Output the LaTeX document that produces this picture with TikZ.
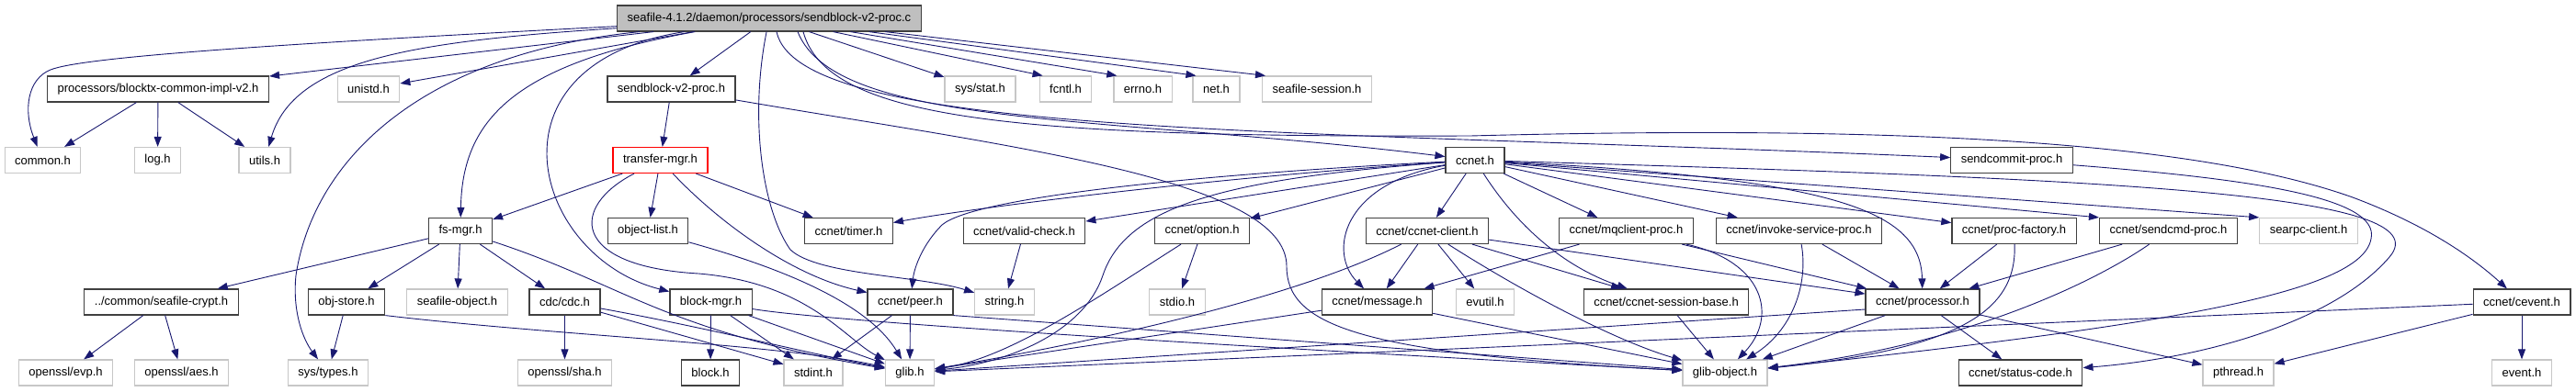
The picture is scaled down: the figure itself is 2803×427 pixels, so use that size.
\documentclass[tikz,border=0pt]{standalone}
\usepackage{fontspec}
\setmainfont{Liberation Sans}
\usetikzlibrary{arrows.meta}
\definecolor{edgeblue}{HTML}{191970}
\definecolor{rootgray}{HTML}{BFBFBF}

\begin{document}
\begin{tikzpicture}[x=1pt, y=-1pt,
    file/.style={draw=black!75, line width=1.2pt, fill=white, minimum height=28pt,
      inner xsep=11pt, inner ysep=0pt, font=\fontsize{13}{15}\selectfont},
    sysfile/.style={file, draw=black!22},
    dep/.style={edgeblue, line width=0.9pt, -{Triangle[length=11pt, width=8pt]}}]
  \useasboundingbox (0,0) rectangle (2803,427);

  \node[file, fill=rootgray] (root) at (837,20) {seafile-4.1.2/daemon/processors/sendblock-v2-proc.c};

  \node[file] (blocktx) at (172,97) {processors/blocktx-common-impl-v2.h};
  \node[sysfile] (unistd) at (401,97) {unistd.h};
  \node[file] (sbproc) at (730.5,97) {sendblock-v2-proc.h};
  \node[sysfile] (sysstat) at (1066.5,97) {sys/stat.h};
  \node[sysfile] (fcntl) at (1159.5,97) {fcntl.h};
  \node[sysfile] (errno) at (1243.5,97) {errno.h};
  \node[sysfile] (net) at (1323.5,97) {net.h};
  \node[sysfile] (session) at (1433,97) {seafile-session.h};

  \node[sysfile] (common) at (46.5,174.5) {common.h};
  \node[sysfile] (log) at (171.5,174.5) {log.h};
  \node[sysfile] (utils) at (288,174.5) {utils.h};
  \node[file, draw=red] (tmgr) at (718.5,174.5) {transfer-mgr.h};
  \node[file] (ccnet) at (1605,174.5) {ccnet.h};
  \node[file] (sendcommit) at (2189,174.5) {sendcommit-proc.h};

  \node[file] (fsmgr) at (501,251.5) {fs-mgr.h};
  \node[file] (objlist) at (705,251.5) {object-list.h};
  \node[file] (timer) at (923.5,251.5) {ccnet/timer.h};
  \node[file] (valid) at (1114.5,251.5) {ccnet/valid-check.h};
  \node[file] (option) at (1308,251.5) {ccnet/option.h};
  \node[file] (client) at (1553,251.5) {ccnet/ccnet-client.h};
  \node[file] (mqclient) at (1769.5,251.5) {ccnet/mqclient-proc.h};
  \node[file] (invoke) at (1957.5,251.5) {ccnet/invoke-service-proc.h};
  \node[file] (procfactory) at (2191.5,251.5) {ccnet/proc-factory.h};
  \node[file] (sendcmd) at (2359.5,251.5) {ccnet/sendcmd-proc.h};
  \node[sysfile] (searpc) at (2512,251.5) {searpc-client.h};

  \node[file] (crypt) at (175.5,329) {../common/seafile-crypt.h};
  \node[file] (objstore) at (377,329) {obj-store.h};
  \node[sysfile] (seafobj) at (497.5,329) {seafile-object.h};
  \node[file] (cdc) at (614.5,329) {cdc/cdc.h};
  \node[file] (blockmgr) at (773.5,329) {block-mgr.h};
  \node[file] (peer) at (990.5,329) {ccnet/peer.h};
  \node[sysfile] (string) at (1093,329) {string.h};
  \node[sysfile] (stdio) at (1281,329) {stdio.h};
  \node[file] (message) at (1498.5,329) {ccnet/message.h};
  \node[sysfile] (evutil) at (1616,329) {evutil.h};
  \node[file] (sessbase) at (1813,329) {ccnet/ccnet-session-base.h};
  \node[file] (processor) at (2092,329) {ccnet/processor.h};
  \node[file] (cevent) at (2744,329) {ccnet/cevent.h};

  \node[sysfile] (evp) at (71.5,406) {openssl/evp.h};
  \node[sysfile] (aes) at (197.5,406) {openssl/aes.h};
  \node[sysfile] (systypes) at (357,406) {sys/types.h};
  \node[sysfile] (sha) at (614.5,406) {openssl/sha.h};
  \node[file] (block) at (773,406) {block.h};
  \node[sysfile] (stdint) at (885,406) {stdint.h};
  \node[sysfile] (glib) at (990,406) {glib.h};
  \node[sysfile] (gobject) at (1877,406) {glib-object.h};
  \node[file] (status) at (2198.5,406) {ccnet/status-code.h};
  \node[sysfile] (pthread) at (2435.5,406) {pthread.h};
  \node[sysfile] (event) at (2744,406) {event.h};

  \draw[dep] (root) .. controls (300,48) and (90,62) .. (55,76)
    .. controls (30,86) and (25,120) .. (common);
  \draw[dep] (root) -- (blocktx);
  \draw[dep] (root) -- (unistd);
  \draw[dep] (root) .. controls (450,45) and (320,65) .. (utils);
  \draw[dep] (root) .. controls (560,70) and (503,130) .. (fsmgr);
  \draw[dep] (root) .. controls (450,60) and (340,180) .. (322,300)
    .. controls (318,340) and (330,370) .. (systypes);
  \draw[dep] (root) .. controls (520,70) and (580,280) .. (blockmgr);
  \draw[dep] (root) -- (sbproc);
  \draw[dep] (root) .. controls (815,130) and (830,230) .. (860,272)
    .. controls (890,300) and (1000,300) .. (string);
  \draw[dep] (root) -- (sysstat);
  \draw[dep] (root) -- ([xshift=4pt]fcntl.north west);
  \draw[dep] (root) -- ([xshift=4pt]errno.north west);
  \draw[dep] (root) -- ([xshift=4pt]net.north west);
  \draw[dep] (root) -- ([xshift=4pt]session.north west);
  \draw[dep] ([xshift=31pt]root.south) .. controls (910,140) and (1200,125) .. (ccnet);
  \draw[dep] ([xshift=8pt]root.south) .. controls (870,150) and (1400,140) .. (sendcommit);
  \draw[dep] ([xshift=37pt]root.south) .. controls (900,130) and (1100,150) .. (1600,148)
    .. controls (2100,135) and (2400,158) .. (2560,215)
    .. controls (2640,245) and (2690,280) .. (cevent);

  \draw[dep] (blocktx) -- (common);
  \draw[dep] (blocktx) -- (log);
  \draw[dep] (blocktx) -- (utils);

  \draw[dep] (sbproc) -- (tmgr);
  \draw[dep] (sbproc) .. controls (1100,160) and (1400,195) .. (1400,290)
    .. controls (1400,355) and (1480,385) .. (gobject);

  \draw[dep] (tmgr) -- (fsmgr);
  \draw[dep] (tmgr) -- (objlist);
  \draw[dep] (tmgr) -- (timer);
  \draw[dep] (tmgr) .. controls (620,225) and (620,290) .. (760,298)
    .. controls (880,308) and (920,370) .. (glib);
  \draw[dep] (tmgr) .. controls (780,240) and (860,300) .. (peer);
  \draw[dep] (objlist) .. controls (880,300) and (950,340) .. (glib);

  \draw[dep] (fsmgr) -- (crypt);
  \draw[dep] (fsmgr) -- (objstore);
  \draw[dep] (fsmgr) -- (seafobj);
  \draw[dep] (fsmgr) -- (cdc);
  \draw[dep] (fsmgr) .. controls (680,310) and (720,360) .. (glib);
  \draw[dep] (crypt) -- (evp);
  \draw[dep] (crypt) -- (aes);
  \draw[dep] (objstore) -- (systypes);
  \draw[dep] (objstore.south east) .. controls (600,365) and (850,375) .. (glib);
  \draw[dep] (cdc) -- (sha);
  \draw[dep] (cdc) -- (stdint);
  \draw[dep] (cdc) .. controls (760,355) and (880,385) .. (glib);
  \draw[dep] (blockmgr) -- (block);
  \draw[dep] (blockmgr) -- (stdint);
  \draw[dep] (blockmgr) -- (glib);
  \draw[dep] (blockmgr) .. controls (900,350) and (1300,375) .. (gobject);
  \draw[dep] (peer) -- (stdint);
  \draw[dep] (peer) -- (glib);
  \draw[dep] (peer.south east) -- (gobject);
  \draw[dep] (valid) -- (string);
  \draw[dep] (option) -- (stdio);
  \draw[dep] (option) .. controls (1200,320) and (1100,390) .. (glib);

  \draw[dep] (ccnet) .. controls (1300,195) and (1050,228) .. (timer);
  \draw[dep] (ccnet) -- (valid);
  \draw[dep] (ccnet) -- (option);
  \draw[dep] (ccnet) .. controls (1300,190) and (1060,215) .. (1025,245)
    .. controls (1005,265) and (995,290) .. (peer);
  \draw[dep] (ccnet) .. controls (1330,195) and (1225,225) .. (1200,300)
    .. controls (1180,360) and (1100,395) .. (glib);
  \draw[dep] (ccnet) .. controls (1460,200) and (1445,275) .. (message);
  \draw[dep] (ccnet) -- (client);
  \draw[dep] (ccnet) .. controls (1650,245) and (1700,290) .. (sessbase);
  \draw[dep] (ccnet) -- (mqclient);
  \draw[dep] (ccnet) -- (invoke);
  \draw[dep] (ccnet) .. controls (2000,195) and (2090,230) .. (processor);
  \draw[dep] (ccnet) -- (procfactory);
  \draw[dep] (ccnet) -- (sendcmd.north west);
  \draw[dep] (ccnet) -- (searpc.north west);
  \draw[dep] (ccnet) .. controls (2300,195) and (2660,210) .. (2600,280)
    .. controls (2540,350) and (2400,390) .. (status);
  \draw[dep] (sendcommit) .. controls (2450,195) and (2590,215) .. (2580,260)
    .. controls (2570,320) and (2350,355) .. (gobject);

  \draw[dep] (client) -- (message);
  \draw[dep] (client) -- (evutil);
  \draw[dep] (client) -- (sessbase);
  \draw[dep] (client) .. controls (1400,330) and (1150,380) .. (glib);
  \draw[dep] (client) .. controls (1660,320) and (1760,372) .. (gobject);
  \draw[dep] (client) -- (processor);
  \draw[dep] (mqclient) -- (message);
  \draw[dep] (mqclient) -- (processor);
  \draw[dep] (mqclient) .. controls (1920,285) and (1935,345) .. (gobject);
  \draw[dep] (invoke) -- (processor);
  \draw[dep] (invoke) .. controls (1968,310) and (1950,360) .. (gobject);
  \draw[dep] (procfactory) -- (processor);
  \draw[dep] (procfactory) .. controls (2195,340) and (2130,380) .. (gobject);
  \draw[dep] (sendcmd) -- (processor);
  \draw[dep] (sendcmd) .. controls (2290,300) and (2150,375) .. (gobject);
  \draw[dep] (message) -- (glib);
  \draw[dep] (message) -- (gobject);
  \draw[dep] (sessbase) -- (gobject);
  \draw[dep] ([yshift=-8pt]processor.west) -- (glib);
  \draw[dep] (processor) -- (gobject);
  \draw[dep] (processor) -- (status);
  \draw[dep] (processor) -- (pthread);
  \draw[dep] (cevent) -- (glib);
  \draw[dep] (cevent) -- (pthread);
  \draw[dep] (cevent) -- (event);
\end{tikzpicture}
\end{document}
